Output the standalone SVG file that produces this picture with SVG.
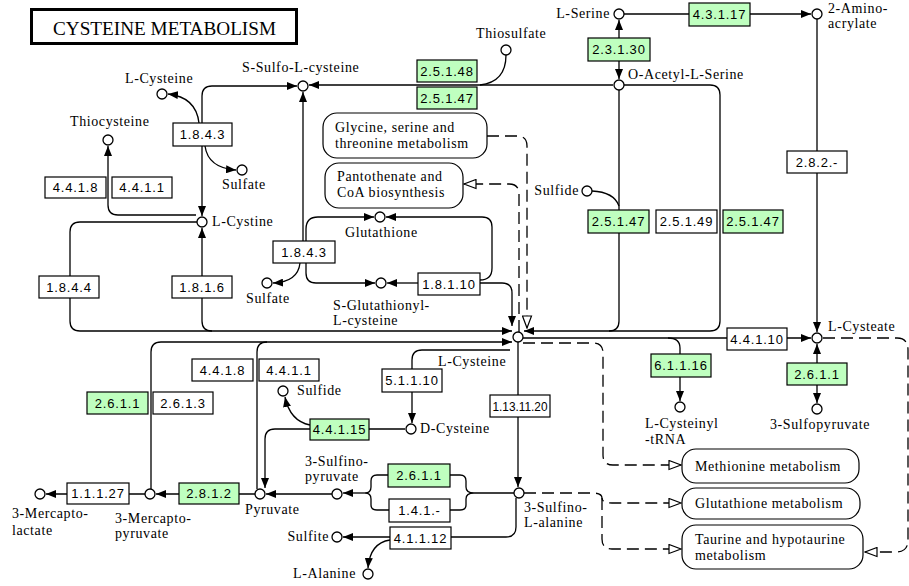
<svg xmlns="http://www.w3.org/2000/svg" width="909" height="586" viewBox="0 0 909 586">
<style>
.l{fill:none;stroke:#000;stroke-width:1.3}
.d{fill:none;stroke:#000;stroke-width:1.3;stroke-dasharray:12 6}
.a{marker-end:url(#ar)}
.b{marker-start:url(#ar);marker-end:url(#ar)}
.h{marker-end:url(#ho)}
.e rect{fill:#fff;stroke:#000;stroke-width:1.2}
.g rect{fill:#bfffbf}
.e text{font-family:"Liberation Sans",Arial,sans-serif;font-size:13px;letter-spacing:.8px;text-anchor:middle}
.c circle{fill:#fff;stroke:#000;stroke-width:1.3}
text.t,.c text,.m text{font-family:"Liberation Serif","Times New Roman",serif;font-size:14px;letter-spacing:.6px}
.m rect{fill:#fff;stroke:#000;stroke-width:1.2}
</style>
<defs>
<marker id="ar" viewBox="0 0 10 8" refX="10" refY="4" markerWidth="10" markerHeight="8" markerUnits="userSpaceOnUse" orient="auto-start-reverse"><path d="M0,0L10,4L0,8z" fill="#000"/></marker>
<marker id="ho" viewBox="-1 -1 14 11" refX="12" refY="4.5" markerWidth="14" markerHeight="11" markerUnits="userSpaceOnUse" orient="auto"><path d="M0,0L12,4.5L0,9z" fill="#fff" stroke="#000" stroke-width="1.2"/></marker>
</defs>
<rect width="909" height="586" fill="#fff"/>
<g id="title">
<rect x="31.5" y="9.5" width="265" height="34" fill="#fff" stroke="#000" stroke-width="3"/>
<text x="53" y="35" font-family="Liberation Serif,serif" font-size="19" textLength="223" lengthAdjust="spacingAndGlyphs">CYSTEINE METABOLISM</text>
</g>
<g id="connectors">
<path class="l b" d="M202,216V96Q202,86 212,86H297"/>
<path class="l a" d="M199,123Q196,97 168,94"/>
<path class="l a" d="M205,146Q208,168 236,170"/>
<path class="l a" d="M196,215H118Q108,215 108,205V146"/>
<path class="l a" d="M197,222H80Q70,222 70,232V321Q70,331 80,331H512"/>
<path class="l a" d="M212,331Q202,331 202,321V228"/>
<path class="l a" d="M303,241V92"/>
<path class="l a" d="M306,241V229Q306,217 318,217H374"/>
<path class="l a" d="M306,263V273Q306,283 316,283H375"/>
<path class="l a" d="M300,263Q298,282 273,283"/>
<path class="l a" d="M480,280Q492,280 492,268V227Q492,217 482,217H386"/>
<path class="l a" d="M418,283H387"/>
<path class="l a" d="M480,283H502Q512,283 512,293V326"/>
<path class="l a" d="M151,489V352Q151,342 161,342H512"/>
<path class="l" d="M257,489V352Q257,342 267,342"/>
<path class="l a" d="M613,85H309"/>
<path class="l" d="M506,55Q506,82 480,85"/>
<path class="l a" d="M624,14H811"/>
<path class="l b" d="M619,20V79"/>
<path class="l a" d="M624,85H710Q720,85 720,95V321Q720,331 710,331H524"/>
<path class="l" d="M619,90V321Q619,331 609,331"/>
<path class="l" d="M592,191Q614,192 619,206"/>
<path class="l a" d="M817,19V332"/>
<path class="l a" d="M523,338H811"/>
<path class="l a" d="M668,338Q680,338 680,348V401"/>
<path class="l b" d="M817,403V344"/>
<path class="l a" d="M518,342V487"/>
<path class="l a" d="M510,350H422Q412,350 412,360V423"/>
<path class="l a" d="M405,429H275Q265,429 265,439V488"/>
<path class="l a" d="M310,425Q290,421 285,397"/>
<path class="l a" d="M332,494H266"/>
<path class="l a" d="M255,494H156"/>
<path class="l a" d="M145,494H46"/>
<path class="l" d="M514,493H474"/>
<path class="l" d="M450,475H460Q466,475 466,481V487Q466,493 474,493Q466,493 466,499V505Q466,510 460,510H450"/>
<path class="l" d="M388,475H377Q371,475 371,481V487Q371,493 365,493Q371,493 371,499V505Q371,510 377,510H389"/>
<path class="l a" d="M365,493H343"/>
<path class="l" d="M516,498V527Q516,537 506,537H451"/>
<path class="l a" d="M390,537H343"/>
<path class="l a" d="M390,540Q370,543 368,568"/>
<path class="d h" d="M487,136H517Q527,136 527,146V328"/>
<path class="d h" d="M519,332V194Q519,184 509,184H464"/>
<path class="d h" d="M523,343H593Q603,343 603,353V455Q603,465 613,465H681"/>
<path class="d h" d="M524,493H592Q602,493 602,498Q602,503 612,503H681"/>
<path class="d h" d="M602,498V539Q602,549 612,549H681"/>
<path class="d h" d="M823,338H897Q908,338 908,350V540Q908,552 896,552H865"/>
</g>
<g id="e-1.8.4.3a" class="e"><rect x="173" y="123" width="59" height="23"/><text x="202.5" y="139">1.8.4.3</text></g>
<g id="e-4.4.1.8a" class="e"><rect x="45" y="177" width="61" height="21"/><text x="75.5" y="192">4.4.1.8</text></g>
<g id="e-4.4.1.1a" class="e"><rect x="112" y="177" width="60" height="21"/><text x="142" y="192">4.4.1.1</text></g>
<g id="e-1.8.4.4" class="e"><rect x="39" y="276" width="60" height="22"/><text x="69" y="291.5">1.8.4.4</text></g>
<g id="e-1.8.1.6" class="e"><rect x="172" y="276" width="60" height="22"/><text x="202" y="291.5">1.8.1.6</text></g>
<g id="e-1.8.4.3b" class="e"><rect x="273" y="241" width="62" height="22"/><text x="304" y="256.5">1.8.4.3</text></g>
<g id="e-1.8.1.10" class="e"><rect x="418" y="273" width="62" height="22"/><text x="449" y="288.5">1.8.1.10</text></g>
<g id="e-2.5.1.48" class="e g"><rect x="417" y="60" width="60" height="22"/><text x="447" y="75.5">2.5.1.48</text></g>
<g id="e-2.5.1.47a" class="e g"><rect x="417" y="87" width="60" height="22"/><text x="447" y="102.5">2.5.1.47</text></g>
<g id="e-2.3.1.30" class="e g"><rect x="588" y="38" width="62" height="23"/><text x="619" y="54">2.3.1.30</text></g>
<g id="e-4.3.1.17" class="e g"><rect x="689" y="3" width="61" height="23"/><text x="719.5" y="19">4.3.1.17</text></g>
<g id="e-2.8.2.-" class="e"><rect x="787" y="151" width="60" height="22"/><text x="817" y="166.5">2.8.2.-</text></g>
<g id="e-2.5.1.47b" class="e g"><rect x="588" y="210" width="61" height="23"/><text x="618.5" y="226">2.5.1.47</text></g>
<g id="e-2.5.1.49" class="e"><rect x="656" y="210" width="61" height="23"/><text x="686.5" y="226">2.5.1.49</text></g>
<g id="e-2.5.1.47c" class="e g"><rect x="723" y="210" width="60" height="23"/><text x="753" y="226">2.5.1.47</text></g>
<g id="e-4.4.1.10" class="e"><rect x="727" y="328" width="60" height="22"/><text x="757" y="343.5">4.4.1.10</text></g>
<g id="e-6.1.1.16" class="e g"><rect x="651" y="354" width="60" height="23"/><text x="681" y="370">6.1.1.16</text></g>
<g id="e-2.6.1.1a" class="e g"><rect x="787" y="363" width="60" height="22"/><text x="817" y="378.5">2.6.1.1</text></g>
<g id="e-4.4.1.8b" class="e"><rect x="192" y="359" width="61" height="22"/><text x="222.5" y="374.5">4.4.1.8</text></g>
<g id="e-4.4.1.1b" class="e"><rect x="259" y="359" width="60" height="22"/><text x="289" y="374.5">4.4.1.1</text></g>
<g id="e-2.6.1.1b" class="e g"><rect x="87" y="392" width="61" height="22"/><text x="117.5" y="407.5">2.6.1.1</text></g>
<g id="e-2.6.1.3" class="e"><rect x="153" y="392" width="60" height="22"/><text x="183" y="407.5">2.6.1.3</text></g>
<g id="e-5.1.1.10" class="e"><rect x="382" y="369" width="60" height="23"/><text x="412" y="385">5.1.1.10</text></g>
<g id="e-4.4.1.15" class="e g"><rect x="310" y="419" width="59" height="21"/><text x="339.5" y="434">4.4.1.15</text></g>
<g id="e-1.13.11.20" class="e"><rect x="490" y="395" width="60" height="22"/><text x="520" y="410.5" textLength="55" lengthAdjust="spacingAndGlyphs" style="letter-spacing:0">1.13.11.20</text></g>
<g id="e-2.6.1.1c" class="e g"><rect x="388" y="464" width="62" height="23"/><text x="419" y="480">2.6.1.1</text></g>
<g id="e-1.4.1.-" class="e"><rect x="389" y="499" width="61" height="23"/><text x="419.5" y="515">1.4.1.-</text></g>
<g id="e-4.1.1.12" class="e"><rect x="390" y="527" width="61" height="22"/><text x="420.5" y="542.5">4.1.1.12</text></g>
<g id="e-2.8.1.2" class="e g"><rect x="179" y="483" width="60" height="21"/><text x="209" y="498">2.8.1.2</text></g>
<g id="e-1.1.1.27" class="e"><rect x="67" y="483" width="62" height="21"/><text x="98" y="498">1.1.1.27</text></g>
<g id="m-glycine" class="m"><rect x="323" y="113" width="164" height="45" rx="14"/><text x="335" y="132">Glycine, serine and</text><text x="335" y="148">threonine metabolism</text></g>
<g id="m-pantothenate" class="m"><rect x="325" y="163" width="138" height="45" rx="14"/><text x="337" y="181">Pantothenate and</text><text x="337" y="197">CoA biosynthesis</text></g>
<g id="m-methionine" class="m"><rect x="682" y="449" width="177" height="34" rx="14"/><text x="695" y="471">Methionine metabolism</text></g>
<g id="m-glutathione" class="m"><rect x="682" y="488" width="178" height="31" rx="14"/><text x="695" y="508">Glutathione metabolism</text></g>
<g id="m-taurine" class="m"><rect x="682" y="525" width="181" height="44" rx="14"/><text x="695" y="544">Taurine and hypotaurine</text><text x="695" y="560">metabolism</text></g>
<g id="c-lcysteine1" class="c"><circle cx="162" cy="94" r="5"/><text x="125" y="83">L-Cysteine</text></g>
<g id="c-ssulfo" class="c"><circle cx="303" cy="86" r="5"/><text x="242" y="72">S-Sulfo-L-cysteine</text></g>
<g id="c-thiocysteine" class="c"><circle cx="108" cy="140" r="5"/><text x="70" y="126">Thiocysteine</text></g>
<g id="c-sulfate1" class="c"><circle cx="242" cy="170" r="5"/><text x="222" y="189">Sulfate</text></g>
<g id="c-lcystine" class="c"><circle cx="202" cy="222" r="5"/><text x="212" y="226">L-Cystine</text></g>
<g id="c-sulfate2" class="c"><circle cx="267" cy="283" r="5"/><text x="246" y="303">Sulfate</text></g>
<g id="c-glutathione" class="c"><circle cx="380" cy="217" r="5"/><text x="345" y="237">Glutathione</text></g>
<g id="c-sglut" class="c"><circle cx="381" cy="283" r="5"/><text x="333" y="310">S-Glutathionyl-</text><text x="333" y="325">L-cysteine</text></g>
<g id="c-thiosulfate" class="c"><circle cx="506" cy="50" r="5"/><text x="476" y="38">Thiosulfate</text></g>
<g id="c-lserine" class="c"><circle cx="619" cy="14" r="5"/><text x="610" y="18" text-anchor="end">L-Serine</text></g>
<g id="c-aminoacrylate" class="c"><circle cx="817" cy="14" r="5"/><text x="828" y="13">2-Amino-</text><text x="828" y="28">acrylate</text></g>
<g id="c-oacetyl" class="c"><circle cx="619" cy="85" r="5"/><text x="628" y="79">O-Acetyl-L-Serine</text></g>
<g id="c-sulfide1" class="c"><circle cx="587" cy="191" r="5"/><text x="579" y="195" text-anchor="end">Sulfide</text></g>
<g id="c-lcysteine" class="c"><circle cx="518" cy="337" r="5"/><text x="438" y="366">L-Cysteine</text></g>
<g id="c-lcysteate" class="c"><circle cx="817" cy="338" r="5"/><text x="828" y="331">L-Cysteate</text></g>
<g id="c-trna" class="c"><circle cx="680" cy="407" r="5"/><text x="645" y="428">L-Cysteinyl</text><text x="645" y="444">-tRNA</text></g>
<g id="c-sulfopyruvate" class="c"><circle cx="817" cy="409" r="5"/><text x="770" y="429">3-Sulfopyruvate</text></g>
<g id="c-sulfide2" class="c"><circle cx="283" cy="391" r="5"/><text x="297" y="395">Sulfide</text></g>
<g id="c-dcysteine" class="c"><circle cx="411" cy="429" r="5"/><text x="420" y="433">D-Cysteine</text></g>
<g id="c-sulfinopyruvate" class="c"><circle cx="337" cy="494" r="5"/><text x="305" y="466">3-Sulfino-</text><text x="305" y="481">pyruvate</text></g>
<g id="c-sulfinoalanine" class="c"><circle cx="519" cy="493" r="5"/><text x="524" y="512">3-Sulfino-</text><text x="524" y="527">L-alanine</text></g>
<g id="c-pyruvate" class="c"><circle cx="260" cy="494" r="5"/><text x="245" y="514">Pyruvate</text></g>
<g id="c-mercaptopyruvate" class="c"><circle cx="150" cy="494" r="5"/><text x="115" y="523">3-Mercapto-</text><text x="115" y="538">pyruvate</text></g>
<g id="c-mercaptolactate" class="c"><circle cx="40" cy="494" r="5"/><text x="12" y="518">3-Mercapto-</text><text x="12" y="535">lactate</text></g>
<g id="c-sulfite" class="c"><circle cx="337" cy="537" r="5"/><text x="329" y="541" text-anchor="end">Sulfite</text></g>
<g id="c-lalanine" class="c"><circle cx="368" cy="574" r="5"/><text x="356" y="578" text-anchor="end">L-Alanine</text></g>
</svg>
